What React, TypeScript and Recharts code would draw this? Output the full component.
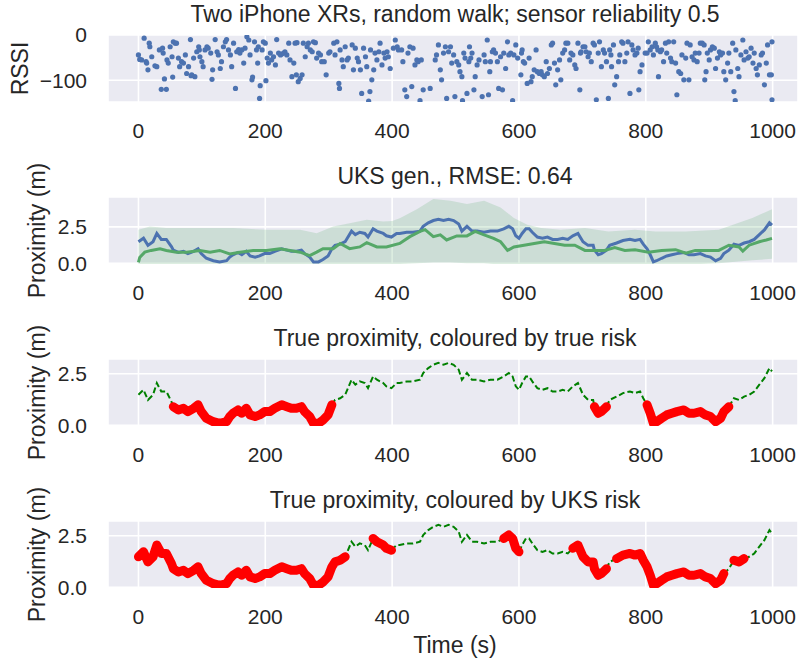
import React from 'react';
import {
  ScatterChart, Scatter, ComposedChart, Line, Area,
  XAxis, YAxis, CartesianGrid,
} from 'recharts';

const W = 798;
const H = 660;
const FONT = '"Liberation Sans", Arial, Helvetica, sans-serif';
const INK = '#262626';
const BG = '#EAEAF2';
const BLUE = '#4C72B0';
const SEA_GREEN = '#55A868';

// --- tick labels / text ---
const timeTicks = [0, 200, 400, 600, 800, 1000];
const rssiTicks = [-100, 0];
const proxTicks = [0, 2.5];
const panelTitles = [
  'Two iPhone XRs, random walk; sensor reliability 0.5',
  'UKS gen., RMSE: 0.64',
  'True proximity, coloured by true risk',
  'True proximity, coloured by UKS risk',
];
const yLabels = ['RSSI', 'Proximity (m)', 'Proximity (m)', 'Proximity (m)'];

// --- RSSI readings [time s, dBm] ---
const rssiPoints: [number, number][] = [
  [0, -44], [2, -54], [5, -55], [9, -7], [12, -59], [13, -62], [15, -77], [17, -18], [18, -26], [21, -48],
  [26, -68], [29, -70], [33, -33], [36, -120], [38, -29], [39, -40], [41, -97], [44, -120], [45, -55], [47, -62],
  [50, -26], [53, -48], [54, -93], [55, -15], [58, -18], [60, -18], [63, -51], [65, -70], [68, -59], [71, -62],
  [74, -44], [76, -85], [79, -70], [82, -10], [83, -90], [84, -88], [87, -51], [89, -92], [92, -37], [95, -26],
  [96, -33], [97, -48], [100, -59], [102, -70], [105, -33], [108, -26], [110, -29], [114, -40], [116, -98], [117, -77],
  [121, -10], [124, -37], [126, -44], [129, -74], [131, -59], [134, -26], [137, -15], [139, -10], [142, -33], [145, -44],
  [147, -70], [150, -18], [153, -118], [155, -37], [158, -32], [160, -40], [163, -33], [166, -62], [168, -29], [171, -4],
  [174, -11], [176, -44], [179, -99], [180, -93], [183, -15], [186, -33], [188, -62], [189, -26], [191, -140], [192, -112],
  [195, -33], [197, -15], [200, -18], [201, -101], [203, -51], [205, -62], [208, -40], [210, -55], [213, -48], [216, -66],
  [218, -10], [221, -40], [224, -44], [226, -42], [229, -40], [231, -37], [234, -44], [237, -18], [239, -55], [242, -92],
  [245, -62], [247, -18], [249, -88], [250, -17], [252, -103], [255, -96], [258, -88], [260, -18], [263, -48], [266, -26],
  [268, -18], [271, -33], [274, -37], [276, -15], [279, -17], [281, -51], [284, -40], [287, -44], [289, -59], [293, -59],
  [296, -88], [300, -40], [302, -37], [308, -18], [310, -44], [313, -15], [316, -107], [317, -118], [318, -33], [321, -55],
  [323, -70], [326, -26], [329, -55], [331, -51], [337, -22], [339, -77], [342, -29], [345, -51], [347, -59], [350, -77],
  [352, -129], [355, -29], [358, -48], [360, -70], [363, -146], [365, -125], [366, -33], [368, -99], [371, -77], [373, -40],
  [376, -55], [379, -37], [381, -18], [384, -66], [387, -40], [389, -51], [392, -37], [394, -48], [397, -74], [402, -29],
  [405, -11], [408, -26], [410, -33], [415, -33], [417, -59], [420, -121], [423, -136], [425, -40], [428, -26], [431, -114],
  [433, -29], [436, -66], [439, -55], [441, -59], [444, -145], [446, -55], [449, -121], [460, -118], [468, -55], [470, -44],
  [473, -22], [476, -77], [478, -99], [481, -40], [484, -26], [486, -140], [489, -37], [492, -26], [494, -62], [497, -44],
  [499, -136], [502, -59], [505, -66], [507, -81], [510, -92], [511, -145], [513, -40], [515, -51], [518, -129], [521, -59],
  [522, -26], [524, -51], [526, -40], [529, -121], [531, -92], [534, -66], [537, -55], [542, -136], [545, -44], [547, -59],
  [550, -11], [552, -132], [554, -81], [555, -59], [558, -37], [560, -33], [563, -40], [566, -59], [568, -118], [571, -48],
  [574, -121], [576, -40], [579, -74], [582, -15], [584, -44], [587, -40], [590, -145], [592, -44], [595, -22], [598, -51],
  [603, -88], [604, -40], [605, -33], [607, -59], [609, -62], [613, -107], [616, -51], [619, -103], [621, -92], [624, -77],
  [627, -33], [629, -81], [632, -85], [635, -81], [637, -88], [640, -92], [643, -59], [645, -85], [648, -74], [651, -22],
  [653, -18], [656, -62], [658, -110], [661, -77], [664, -55], [666, -99], [669, -40], [672, -33], [674, -18], [677, -18],
  [680, -55], [682, -40], [685, -44], [688, -66], [690, -74], [693, -18], [696, -121], [697, -40], [698, -37], [701, -26],
  [704, -26], [706, -37], [709, -48], [711, -40], [714, -59], [717, -18], [719, -22], [722, -143], [725, -40], [727, -15],
  [730, -70], [733, -33], [735, -40], [738, -59], [741, -140], [743, -33], [745, -44], [746, -70], [749, -22], [751, -110],
  [754, -92], [757, -59], [759, -44], [762, -15], [764, -18], [767, -59], [770, -40], [772, -15], [775, -129], [778, -22],
  [780, -33], [783, -44], [786, -40], [788, -29], [789, -121], [791, -81], [794, -66], [799, -40], [802, -40], [804, -15],
  [807, -33], [810, -26], [812, -44], [815, -18], [817, -26], [819, -33], [820, -92], [823, -37], [825, -33], [828, -59],
  [831, -18], [833, -40], [836, -15], [839, -51], [841, -59], [844, -15], [847, -62], [849, -132], [852, -81], [855, -85],
  [857, -44], [860, -99], [863, -51], [865, -18], [868, -99], [870, -22], [873, -48], [876, -55], [878, -40], [881, -59],
  [884, -40], [886, -18], [889, -18], [892, -22], [893, -99], [895, -81], [897, -40], [900, -55], [902, -33], [905, -26],
  [908, -29], [910, -74], [913, -51], [916, -37], [918, -44], [921, -40], [923, -81], [926, -99], [929, -62], [931, -40],
  [934, -81], [937, -18], [939, -125], [941, -145], [942, -33], [945, -74], [947, -92], [950, -44], [953, -11], [955, -55],
  [958, -37], [961, -51], [963, -48], [966, -29], [969, -62], [971, -40], [974, -74], [976, -88], [979, -66], [982, -44],
  [984, -40], [987, -110], [990, -62], [992, -22], [995, -88], [998, -88], [999, -143], [999, -15],
];

// --- true proximity [time s, metres] ---
const truthPoints: [number, number][] = [
  [0, 1.48], [8, 1.72], [15, 1.23], [23, 1.48], [29, 2.05], [36, 1.64], [44, 1.64], [52, 1.15], [55, 0.9], [63, 0.74],
  [71, 0.82], [78, 0.66], [87, 0.82], [94, 0.99], [99, 0.66], [107, 0.34], [118, 0.17], [128, 0.09], [139, 0.17], [144, 0.42],
  [149, 0.58], [157, 0.74], [163, 0.58], [170, 0.82], [176, 0.5], [184, 0.42], [191, 0.5], [199, 0.66], [207, 0.66], [215, 0.82],
  [226, 0.99], [234, 0.9], [241, 0.82], [249, 0.82], [257, 0.9], [262, 0.66], [270, 0.42], [276, 0.09], [284, 0.09], [291, 0.25],
  [299, 0.5], [305, 0.99], [310, 1.23], [318, 1.31], [326, 1.48], [336, 2.21], [342, 1.97], [349, 2.13], [357, 2.05], [362, 1.8],
  [370, 2.37], [376, 2.21], [386, 2.05], [391, 1.89], [399, 1.8], [407, 2.05], [412, 2.05], [423, 2.13], [433, 2.13], [444, 2.21],
  [449, 2.54], [457, 2.78], [465, 2.94], [473, 3.03], [481, 2.94], [489, 3.03], [497, 2.94], [505, 2.7], [510, 2.21], [518, 2.54],
  [526, 2.21], [534, 2.21], [545, 2.13], [555, 2.21], [566, 2.21], [576, 2.37], [584, 2.54], [590, 2.37], [595, 1.89], [600, 1.72],
  [605, 2.05], [611, 2.37], [616, 2.37], [621, 2.13], [629, 1.8], [637, 1.72], [645, 1.8], [653, 1.64], [661, 1.64], [669, 1.72],
  [677, 1.64], [685, 1.89], [693, 2.05], [701, 1.48], [709, 1.23], [717, 1.23], [719, 0.9], [725, 0.58], [730, 0.66], [738, 0.9],
  [743, 1.23], [754, 1.39], [764, 1.56], [775, 1.64], [783, 1.56], [791, 1.64], [796, 1.31], [802, 0.99], [807, 0.58], [812, 0.09],
  [817, 0.17], [825, 0.34], [833, 0.5], [841, 0.58], [849, 0.66], [860, 0.74], [868, 0.58], [876, 0.58], [886, 0.66], [894, 0.5],
  [902, 0.42], [910, 0.17], [918, 0.34], [923, 0.66], [931, 0.9], [939, 1.31], [947, 1.23], [955, 1.39], [963, 1.48], [971, 1.64],
  [979, 1.97], [987, 2.29], [995, 2.78], [999, 2.62],
];

// --- UKS estimate [time s, metres] ---
const uksPoints: [number, number][] = [
  [0, 0.06], [2, 0.4], [10, 0.76], [20, 0.88], [34, 1.0], [44, 0.88], [60, 0.76], [76, 0.76], [97, 0.88], [113, 0.76],
  [128, 0.88], [144, 0.64], [160, 0.76], [181, 0.88], [202, 0.88], [223, 1.0], [239, 0.88], [255, 0.76], [270, 0.52], [281, 0.76],
  [291, 1.0], [307, 1.0], [318, 1.36], [333, 1.0], [349, 1.12], [360, 1.41], [376, 1.12], [391, 1.12], [412, 1.36], [428, 1.83],
  [444, 2.19], [452, 2.31], [465, 1.83], [476, 1.95], [486, 1.6], [502, 1.88], [518, 1.88], [531, 2.19], [545, 1.95], [560, 1.71],
  [571, 1.48], [582, 0.88], [592, 1.12], [608, 1.24], [624, 1.36], [640, 1.48], [656, 1.36], [672, 1.24], [688, 1.24], [704, 0.88],
  [719, 0.88], [735, 0.88], [751, 1.07], [767, 0.88], [783, 0.93], [804, 0.76], [825, 0.88], [847, 0.93], [863, 0.69], [878, 0.88],
  [900, 0.88], [915, 0.88], [931, 1.24], [947, 1.12], [953, 0.83], [963, 1.24], [979, 1.48], [990, 1.6], [999, 1.71],
];

// --- UKS uncertainty band [time s, lower, upper] ---
const bandPoints: [number, number, number][] = [
  [0, -0.1, 2.3], [18, -0.1, 2.53], [44, -0.1, 2.42], [97, -0.1, 2.42], [150, -0.1, 2.42], [202, -0.1, 2.3],
  [255, -0.1, 2.3], [281, -0.1, 2.07], [307, -0.1, 2.53], [333, -0.1, 2.76], [360, -0.1, 3.0], [386, -0.1, 2.88],
  [400, -0.05, 2.9], [412, -0.05, 3.1], [439, 0.0, 3.71], [465, 0.05, 4.42], [492, 0.05, 4.3], [518, 0.0, 4.07],
  [545, 0.0, 4.3], [571, -0.1, 3.83], [592, -0.1, 3.12], [613, -0.1, 2.65], [635, -0.05, 2.42], [666, -0.05, 2.3],
  [704, -0.05, 2.42], [741, -0.1, 2.19], [783, -0.1, 2.3], [815, -0.1, 2.19], [863, -0.1, 2.19], [915, 0.0, 2.3],
  [968, 0.2, 3.12], [999, 0.3, 3.71],
];

// high-risk stretches (start, end in s)
const trueRiskSpans: [number, number][] = [[55, 305], [719, 738], [802, 931]];
const uksRiskSpans: [number, number][] = [
  [0, 310], [318, 326], [370, 399], [576, 600], [685, 738], [754, 923], [939, 955],
];

const PLOT_LEFT = 108;
const PLOT_H = 67;
const panelTops = [35, 197, 359, 521];
const xDomain = [-48, 1040];
const yLabelX = [28, 45, 45, 45];

const riskSeries = (spans: [number, number][]) =>
  truthPoints.map(([t, v]) => ({
    t,
    red: spans.some(([a, b]) => t >= a && t <= b) ? v : null,
    safe: spans.some(([a, b]) => t > a && t < b) ? null : v,
  }));

const tickStyle = { fontSize: 21, fill: INK, fontFamily: FONT };
const minusFmt = (v: number) => (v < 0 ? '\u2212' + Math.abs(v) : String(v));
const oneDec = (v: number) => v.toFixed(1);

function margins(top: number) {
  return { top, right: 0, left: PLOT_LEFT - 60, bottom: H - top - PLOT_H - 30 };
}

function frame(yDomain: number[], yTicks: number[], fmt: (v: number) => string, yKey?: string) {
  return [
    <CartesianGrid key="g" fill={BG} stroke="#ffffff" strokeWidth={1.6} />,
    <XAxis key="x" type="number" dataKey="t" domain={xDomain} ticks={timeTicks} interval={0}
      allowDataOverflow height={30} axisLine={false} tickLine={false} tickSize={0} tickMargin={21}
      tick={tickStyle} />,
    <YAxis key="y" type="number" dataKey={yKey} domain={yDomain} ticks={yTicks} interval={0}
      allowDataOverflow width={60} axisLine={false} tickLine={false} tickSize={0} tickMargin={21}
      tick={tickStyle} tickFormatter={fmt} />,
  ];
}

const layer: React.CSSProperties = { position: 'absolute', left: 0, top: 0 };

export default function App() {
  const rssiData = rssiPoints.map(([t, r]) => ({ t, r }));
  const truthData = truthPoints.map(([t, v]) => ({ t, v }));
  const uksData = uksPoints.map(([t, v]) => ({ t, v }));
  const bandData = bandPoints.map(([t, lo, hi]) => ({ t, band: [lo, hi] }));
  const trueRisk = riskSeries(trueRiskSpans);
  const uksRisk = riskSeries(uksRiskSpans);
  const proxDomain = [-0.04, 3.22];

  return (
    <div style={{ position: 'absolute', left: 0, top: 0, width: W, height: H, background: '#fff', fontFamily: FONT }}>
      <div style={layer}>
        <ScatterChart width={W} height={H} margin={margins(panelTops[0])}>
          {frame([-148, 0], rssiTicks, minusFmt, 'r')}
          <Scatter data={rssiData} dataKey="r" isAnimationActive={false}
            shape={(p: any) => <circle cx={p.cx} cy={p.cy} r={2.6} fill={BLUE} />} />
        </ScatterChart>
      </div>

      <div style={layer}>
        <ComposedChart width={W} height={H} margin={margins(panelTops[1])}>
          {frame([-0.055, 4.56], proxTicks, oneDec)}
          <Area data={bandData} dataKey="band" type="linear" fill={SEA_GREEN} fillOpacity={0.2}
            stroke="none" isAnimationActive={false} />
          <Line data={truthData} dataKey="v" type="linear" stroke={BLUE} strokeWidth={3} dot={false}
            isAnimationActive={false} />
          <Line data={uksData} dataKey="v" type="linear" stroke={SEA_GREEN} strokeWidth={3} dot={false}
            isAnimationActive={false} />
        </ComposedChart>
      </div>

      {[trueRisk, uksRisk].map((series, i) => (
        <div style={layer} key={i}>
          <ComposedChart width={W} height={H} margin={margins(panelTops[2 + i])}>
            {frame(proxDomain, proxTicks, oneDec)}
            <Line data={series} dataKey="safe" type="linear" stroke="#008000" strokeWidth={2}
              strokeDasharray="6 3" dot={false} connectNulls={false} isAnimationActive={false} />
            <Line data={series} dataKey="red" type="linear" stroke="#ff0000" strokeWidth={9}
              strokeLinecap="round" strokeLinejoin="round" dot={false} connectNulls={false}
              isAnimationActive={false} />
          </ComposedChart>
        </div>
      ))}

      <svg width={W} height={H} style={{ ...layer, pointerEvents: 'none' }}>
        {panelTitles.map((title, i) => (
          <text key={'t' + i} x={455} y={panelTops[i] - 13.5} textAnchor="middle" fontSize={23}
            fill={INK} fontFamily={FONT}>{title}</text>
        ))}
        {yLabels.map((lab, i) => (
          <text key={'y' + i} fontSize={23} fill={INK} fontFamily={FONT} textAnchor="middle"
            transform={`translate(${yLabelX[i]},${panelTops[i] + PLOT_H / 2}) rotate(-90)`}>{lab}</text>
        ))}
        <text x={455} y={653} textAnchor="middle" fontSize={23} fill={INK} fontFamily={FONT}>Time (s)</text>
      </svg>
    </div>
  );
}
